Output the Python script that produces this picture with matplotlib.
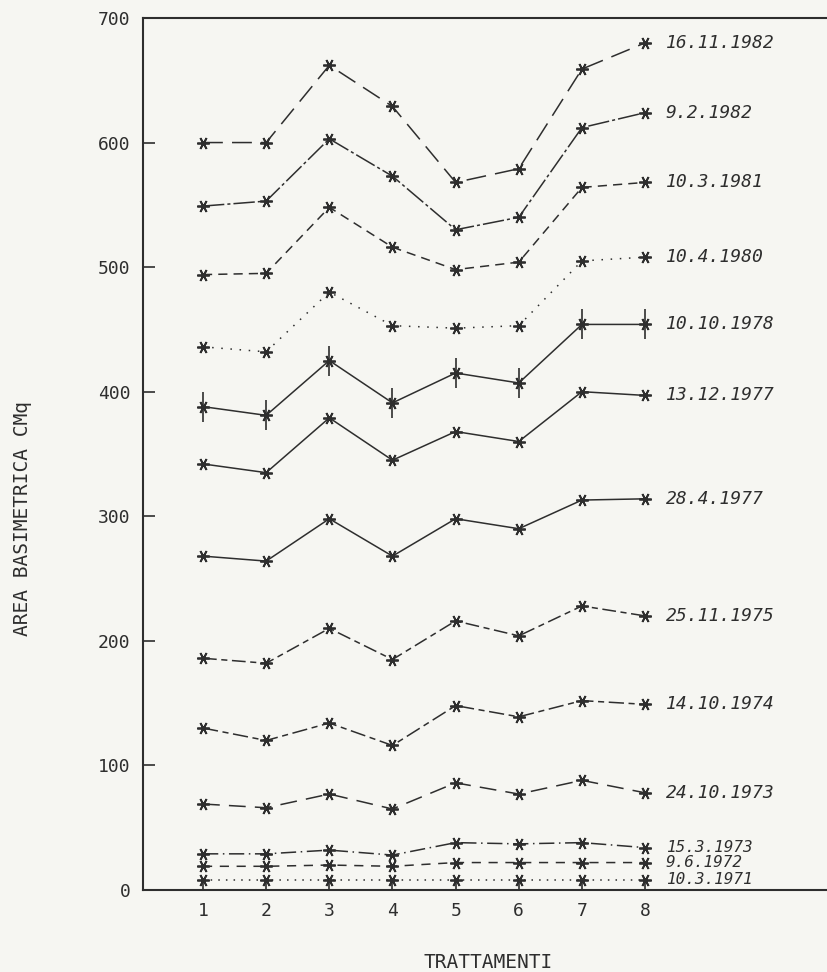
import matplotlib
matplotlib.use('Agg')
import matplotlib.pyplot as plt

# trattamenti 1..8
trattamenti = [1, 2, 3, 4, 5, 6, 7, 8]

# date dei rilievi (etichette a destra delle curve)
date = ['16.11.1982', '9.2.1982', '10.3.1981', '10.4.1980', '10.10.1978',
        '13.12.1977', '28.4.1977', '25.11.1975', '14.10.1974', '24.10.1973',
        '15.3.1973', '9.6.1972', '10.3.1971']

# area basimetrica
v_16_11_1982 = [600, 600, 662, 629, 568, 579, 659, 680]
v_9_2_1982 = [549, 553, 603, 573, 530, 540, 612, 624]
v_10_3_1981 = [494, 495, 548, 516, 498, 504, 564, 568]
v_10_4_1980 = [436, 432, 480, 453, 451, 453, 505, 508]
v_10_10_1978 = [388, 381, 425, 391, 415, 407, 454, 454]
v_13_12_1977 = [342, 335, 379, 345, 368, 360, 400, 397]
v_28_4_1977 = [268, 264, 298, 268, 298, 290, 313, 314]
v_25_11_1975 = [186, 182, 210, 185, 216, 204, 228, 220]
v_14_10_1974 = [130, 120, 134, 116, 148, 139, 152, 149]
v_24_10_1973 = [69, 66, 77, 65, 86, 77, 88, 78]
v_15_3_1973 = [29, 29, 32, 28, 38, 37, 38, 34]
v_9_6_1972 = [19, 19, 20, 19, 22, 22, 22, 22]
v_10_3_1971 = [8, 8, 8, 8, 8, 8, 8, 8]

serie = [v_16_11_1982, v_9_2_1982, v_10_3_1981, v_10_4_1980, v_10_10_1978,
         v_13_12_1977, v_28_4_1977, v_25_11_1975, v_14_10_1974, v_24_10_1973,
         v_15_3_1973, v_9_6_1972, v_10_3_1971]

# tratteggi tipo plotter
tratti = [(13, 6), (14, 2, 2, 2), (6, 4), (1, 5), None,
          None, None, (9, 3, 4, 3), (10, 3, 4, 3), (11, 6),
          (10, 3, 1, 3), (6, 5), (1, 4)]

inchiostro = '#2e2e2e'
carta = '#f6f6f2'
font_mono = 'DejaVu Sans Mono'


def disegna():
    fig = plt.figure(figsize=(8.27, 9.72), dpi=100, facecolor=carta)
    ax = fig.add_axes([0.1729, 0.0844, 0.8271, 0.8971], facecolor=carta)

    stella = (6, 2, 90)
    for i in range(len(serie)):
        line, = ax.plot(trattamenti, serie[i], color=inchiostro, lw=1.1,
                        marker=stella, ms=9, mew=1.3)
        if tratti[i] is not None:
            line.set_dashes(tratti[i])
        # 10.10.1978 ha anche una barretta verticale
        if date[i] == '10.10.1978':
            ax.plot(trattamenti, serie[i], ls='none', color=inchiostro,
                    marker='|', ms=21, mew=1.2)
        # etichetta con la data (le ultime tre sono fitte, un po' piu piccole)
        fs = 13 if i < 10 else 11.5
        ax.annotate(date[i], (trattamenti[-1], serie[i][-1]),
                    xytext=(15, 0), textcoords='offset points',
                    va='center', ha='left', fontsize=fs, style='italic',
                    family=font_mono, color=inchiostro)

    ax.set_xlim(0.05, 10.88)
    ax.set_ylim(0, 700)
    ax.set_xticks(trattamenti)
    ax.set_yticks(range(0, 701, 100))

    ax.spines['right'].set_visible(False)
    for s in ['left', 'bottom', 'top']:
        ax.spines[s].set_linewidth(1.5)
        ax.spines[s].set_color(inchiostro)

    ax.tick_params(axis='y', direction='in', length=8.5, width=1.2,
                   pad=9, labelsize=13, colors=inchiostro)
    ax.tick_params(axis='x', direction='in', length=7, width=1.2,
                   pad=9, labelsize=13, colors=inchiostro)
    for lab in ax.get_xticklabels() + ax.get_yticklabels():
        lab.set_family(font_mono)

    # titoli degli assi
    fig.text(0.027, 0.467, 'AREA BASIMETRICA CMq', rotation=90,
             ha='center', va='center', fontsize=14, family=font_mono,
             color=inchiostro)
    fig.text(0.59, 0.0, 'TRATTAMENTI', ha='center', va='bottom',
             fontsize=14, family=font_mono, color=inchiostro)

    fig.savefig('out.png', dpi=100, facecolor=carta)


def main():
    disegna()


if __name__ == '__main__':
    main()
